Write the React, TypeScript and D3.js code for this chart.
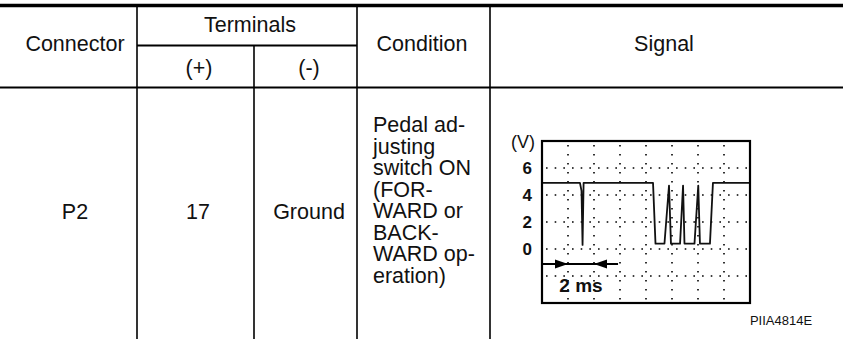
import * as d3 from "d3";

// table text
const headerTop = ["Connector", "Condition", "Signal"];
const terminalsLabel = "Terminals";
const terminalSubs = ["(+)", "(-)"];
const rowCells = ["P2", "17", "Ground"];
const conditionLines = [
  "Pedal ad-",
  "justing",
  "switch ON",
  "(FOR-",
  "WARD or",
  "BACK-",
  "WARD op-",
  "eration)",
];
const figureCode = "PIIA4814E";

// scope data: time in ms, level in V
const voltTicks = [6, 4, 2, 0];
const voltGrid = [-2, 0, 2, 4, 6];
const timeGrid = [2, 4, 6, 8, 10, 12, 14];
const signalTime = [
  0, 2.92, 3.04, 3.12, 3.2, 8.54, 8.73, 9.42, 9.77, 9.92, 10.62, 10.85, 10.96,
  11.73, 12.02, 12.15, 12.92, 13.15, 16,
];
const signalVolt = [
  4.9, 4.9, 4.3, 0.3, 4.9, 4.9, 0.4, 0.4, 4.7, 0.4, 0.4, 4.7, 0.4, 0.4, 4.7,
  0.4, 0.4, 4.9, 4.9,
];
const spanLabel = "2 ms";
const spanFrom = 2;
const spanTo = 4;

const W = 843;
const H = 339;
const FONT = "'Liberation Sans', Arial, Helvetica, sans-serif";

// column edges of the table
const colX = [137, 254, 357, 490];

export default function App() {
  const x = d3.scaleLinear().domain([0, 16]).range([542, 750]);
  const y = d3.scaleLinear().domain([-4, 8]).range([303, 141]);

  const points = signalTime.map((t, i) => [t, signalVolt[i]] as [number, number]);
  const line = d3
    .line<[number, number]>()
    .x((d) => x(d[0]))
    .y((d) => y(d[1]));

  const arrowY = 264;
  const aL = x(spanFrom);
  const aR = x(spanTo);

  return (
    <svg
      width={W}
      height={H}
      style={{ position: "absolute", left: 0, top: 0, background: "#fff" }}
      fontFamily={FONT}
    >
      <rect width={W} height={H} fill="#fff" />

      {/* table rules */}
      <line x1={0} x2={W} y1={5.5} y2={5.5} stroke="#000" strokeWidth={3.5} />
      <line x1={colX[0]} x2={colX[2]} y1={45.5} y2={45.5} stroke="#000" strokeWidth={2} />
      <line x1={0} x2={W} y1={87.5} y2={87.5} stroke="#000" strokeWidth={2.2} />
      {colX.map((cx, i) => (
        <line
          key={i}
          x1={cx}
          x2={cx}
          y1={i === 1 ? 45.5 : 5.5}
          y2={H}
          stroke="#000"
          strokeWidth={1.6}
        />
      ))}

      {/* header text */}
      <g fontSize={21.5} fill="#111" textAnchor="middle">
        <text x={75} y={51}>{headerTop[0]}</text>
        <text x={422} y={51}>{headerTop[1]}</text>
        <text x={664} y={51}>{headerTop[2]}</text>
        <text x={250} y={32}>{terminalsLabel}</text>
        <text x={199} y={75}>{terminalSubs[0]}</text>
        <text x={309} y={75}>{terminalSubs[1]}</text>
      </g>

      {/* body text */}
      <g fontSize={21.5} fill="#111">
        <text x={75} y={218.5} textAnchor="middle">{rowCells[0]}</text>
        <text x={198} y={218.5} textAnchor="middle">{rowCells[1]}</text>
        <text x={309} y={218.5} textAnchor="middle">{rowCells[2]}</text>
        {conditionLines.map((s, i) => (
          <text key={i} x={373} y={132 + i * 21.5}>
            {s}
          </text>
        ))}
      </g>

      {/* scope grid */}
      <g stroke="#000" strokeWidth={1.6}>
        {voltGrid.map((v) => (
          <line
            key={"h" + v}
            x1={x(0) + 4}
            x2={x(16)}
            y1={y(v)}
            y2={y(v)}
            strokeDasharray="1.6 7.07"
          />
        ))}
        {timeGrid.map((t) => (
          <line
            key={"v" + t}
            x1={x(t)}
            x2={x(t)}
            y1={y(8) + 4}
            y2={y(-4)}
            strokeDasharray="1.6 7.4"
          />
        ))}
      </g>

      {/* signal */}
      <path d={line(points) ?? ""} fill="none" stroke="#111" strokeWidth={1.8} strokeLinejoin="round" />

      {/* frame */}
      <rect
        x={x(0)}
        y={y(8)}
        width={x(16) - x(0)}
        height={y(-4) - y(8)}
        fill="none"
        stroke="#000"
        strokeWidth={2.2}
      />

      {/* y labels */}
      <text x={535} y={148} fontSize={18} textAnchor="end" fill="#111">(V)</text>
      <g fontSize={17} fontWeight="bold" textAnchor="end" fill="#111">
        {voltTicks.map((v) => (
          <text key={v} x={532} y={y(v)} dominantBaseline="central">
            {v}
          </text>
        ))}
      </g>

      {/* 2 ms span marker */}
      <line x1={x(0)} x2={x(5.85)} y1={arrowY} y2={arrowY} stroke="#000" strokeWidth={1.8} />
      <path d={`M${aL},${arrowY} L${aL - 13},${arrowY - 4.5} L${aL - 13},${arrowY + 4.5} Z`} fill="#000" />
      <path d={`M${aR},${arrowY} L${aR + 13},${arrowY - 4.5} L${aR + 13},${arrowY + 4.5} Z`} fill="#000" />
      <text
        x={(aL + aR) / 2}
        y={292}
        fontSize={19}
        fontWeight="bold"
        textAnchor="middle"
        fill="#111"
      >
        {spanLabel}
      </text>

      <text x={781} y={325} fontSize={13} textAnchor="middle" fill="#111">
        {figureCode}
      </text>
    </svg>
  );
}
